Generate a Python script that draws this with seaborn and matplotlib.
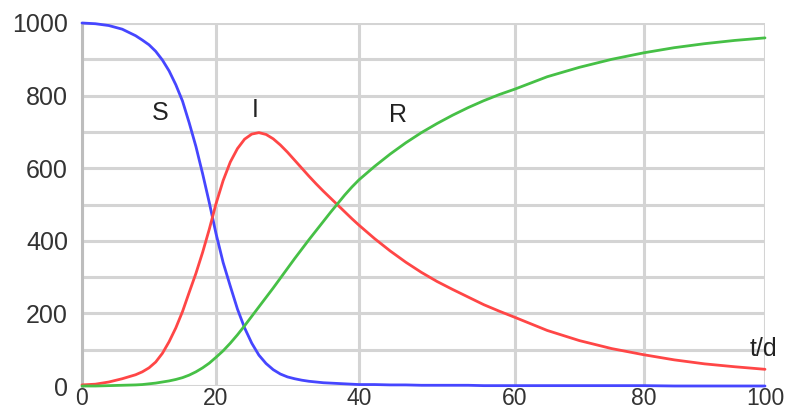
import numpy as np
import pandas as pd
import matplotlib
matplotlib.use("Agg")
import matplotlib.pyplot as plt
import seaborn as sns

# time in days
t_days = [0, 2, 4, 6, 8, 9,
          10, 11, 12, 13, 14, 15, 16, 17, 18, 19, 20, 21, 22, 23, 24, 25,
          26, 27, 28, 29, 30, 31, 32, 33, 34, 35, 36, 37, 38, 39, 40,
          42, 44, 46, 48, 50, 52, 54, 56, 58, 60,
          65, 70, 75, 80, 85, 90, 95, 100]

# susceptible
s_vals = [1000, 998, 993, 983, 965, 953,
          940, 922, 898, 868, 830, 785, 725, 660, 585, 505, 420, 340, 275, 212, 160, 118,
          85, 62, 45, 33, 25, 20, 16, 13, 11, 9, 8, 7, 6, 5, 4,
          4, 3, 3, 2, 2, 2, 2, 1, 1, 1,
          1, 1, 1, 1, 0, 0, 0, 0]

# infected
i_vals = [3, 5, 11, 20, 31, 39,
          50, 66, 90, 122, 160, 205, 258, 310, 368, 432, 502, 566, 617, 654, 680, 694,
          698, 693, 681, 664, 644, 622, 600, 578, 557, 537, 518, 499, 480, 461, 443,
          406, 372, 341, 313, 288, 266, 245, 224, 206, 189,
          153, 125, 103, 86, 72, 61, 53, 46]

# recovered
r_vals = [0, 0, 1, 2, 3, 4,
          6, 8, 11, 14, 18, 23, 30, 39, 50, 63, 79, 97, 118, 141, 166, 192,
          218, 244, 270, 297, 324, 351, 377, 403, 428, 453, 478, 502, 526, 548, 568,
          605, 639, 670, 698, 723, 746, 767, 786, 803, 818,
          852, 878, 900, 918, 932, 943, 952, 959]

x_ticks = [0, 20, 40, 60, 80, 100]
y_ticks = list(range(0, 1001, 100))
y_labels = [str(v) if v % 200 == 0 else "" for v in y_ticks]

df = pd.DataFrame({"t": t_days, "S": s_vals, "I": i_vals, "R": r_vals})
long_df = df.melt(id_vars="t", var_name="group", value_name="n")

sns.set_style("white")
plt.rcParams["font.family"] = ["Liberation Sans", "DejaVu Sans"]

fig = plt.figure(figsize=(7.86, 4.12), dpi=100)
ax = fig.add_axes([82 / 786, 1 - 386 / 412, (765 - 82) / 786, (386 - 23) / 412])

# the reference grid is not evenly spaced along x, follow its pixel spacing
knot_t = [0, 20, 40, 60, 80, 100]
knot_px = [82, 216, 359, 515, 644, 765]
ax.set_xscale("function",
              functions=(lambda v: np.interp(v, knot_t, knot_px),
                         lambda p: np.interp(p, knot_px, knot_t)))

palette = {"S": "#4646ff", "I": "#ff4646", "R": "#46c046"}
sns.lineplot(data=long_df, x="t", y="n", hue="group", palette=palette,
             linewidth=2.0, legend=False, ax=ax, clip_on=False, zorder=3)

ax.set_xlim(0, 100)
ax.set_ylim(0, 1000)
ax.set_xticks(x_ticks)
ax.set_yticks(y_ticks)
ax.set_yticklabels(y_labels)
ax.set_xlabel("")
ax.set_ylabel("")

grid_col = "#d4d4d4"
ax.grid(True, color=grid_col, linewidth=2.2, zorder=0)
ax.set_axisbelow(True)
for side in ["top", "right", "bottom"]:
    ax.spines[side].set_visible(False)
ax.spines["left"].set_color("#bdbdbd")
ax.spines["left"].set_linewidth(2.2)

ax.tick_params(axis="y", length=8, width=2.2, color=grid_col, pad=2,
               labelsize=18, labelcolor="#333333")
ax.tick_params(axis="x", length=0, pad=0.5, labelsize=16.5, labelcolor="#333333")

txt = dict(fontsize=18, color="#222222", ha="center", va="center")
ax.text(11.6, 752, "S", **txt)
ax.text(25.5, 760, "I", **txt)
ax.text(45, 746, "R", **txt)
ax.text(99.8, 102, "t/d", **txt)

fig.savefig("out.png", dpi=100)
